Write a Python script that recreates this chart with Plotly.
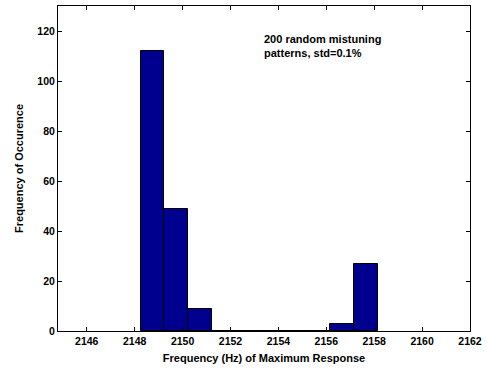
import plotly.graph_objects as go

bin_centers = [2148.74, 2149.73, 2150.72, 2151.71, 2152.70, 2153.70, 2154.69, 2155.68, 2156.67, 2157.66]
counts = [112, 49, 9, 0, 0, 0, 0, 0, 3, 27]
bin_width = 0.992
x_ticks = [2146, 2148, 2150, 2152, 2154, 2156, 2158, 2160, 2162]
y_ticks = [0, 20, 40, 60, 80, 100, 120]

FAM = "Liberation Sans, Arial, sans-serif"
font = dict(family=FAM, size=11, color="black")

fig = go.Figure()
fig.add_trace(go.Bar(
    x=bin_centers, y=counts, width=bin_width,
    marker=dict(color="#00008F", line=dict(color="black", width=1)),
    showlegend=False,
))

axis_common = dict(
    showline=True, linecolor="black", linewidth=1, mirror="ticks",
    ticks="inside", ticklen=4, tickcolor="black", tickwidth=1,
    showgrid=False, zeroline=False,
    tickfont=dict(family=FAM, size=10.5, color="black"),
)

fig.update_layout(
    width=487, height=368,
    margin=dict(l=58, r=15, t=5, b=37),
    paper_bgcolor="white", plot_bgcolor="white",
    bargap=0,
    font=font,
    xaxis=dict(range=[2144.8, 2162], tickvals=x_ticks,
               ticktext=[f"<b>{v}</b>" for v in x_ticks],
               title=dict(text="<b>Frequency (Hz) of Maximum Response</b>", standoff=8,
                          font=dict(family=FAM, size=11)),
               **axis_common),
    yaxis=dict(range=[0, 130], tickvals=y_ticks,
               ticktext=[f"<b>{v}</b>" for v in y_ticks],
               title=dict(text="<b>Frequency of Occurence</b>", standoff=11,
                          font=dict(family=FAM, size=11)),
               **axis_common),
    annotations=[dict(
        x=2153.32, y=120.0, xref="x", yref="y", xanchor="left", yanchor="top",
        text="<b>200 random mistuning<br>patterns, std=0.1%</b>", showarrow=False,
        align="left", font=dict(family=FAM, size=11, color="black"),
    )],
)

fig.write_html("out.html")
